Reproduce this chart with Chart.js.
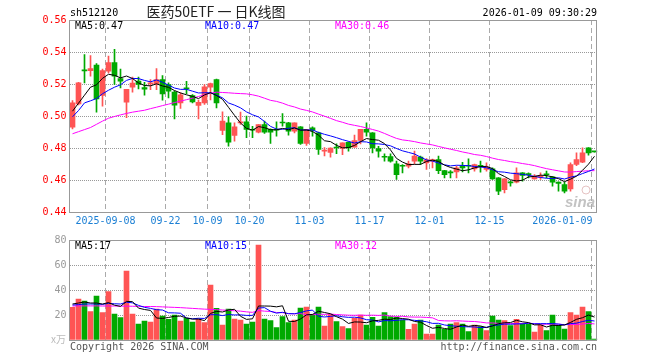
<!DOCTYPE html>
<html>
<head>
<meta charset="utf-8">
<script src="https://cdn.jsdelivr.net/npm/chart.js@4.4.1/dist/chart.umd.min.js"></script>
<style>
  body { margin: 0; background: #fff; }
  #wrap { position: relative; width: 660px; height: 360px; }
  canvas { position: absolute; left: 0; }
  #kline { top: 0; }
  #vol { top: 230px; }
</style>
</head>
<body>
<div id="wrap">
  <canvas id="kline" width="660" height="230"></canvas>
  <canvas id="vol" width="660" height="130"></canvas>
</div>
<script>
//trading days shown on the chart
var dates = ['2025-08-29','2025-09-01','2025-09-02','2025-09-03','2025-09-04','2025-09-05','2025-09-08','2025-09-09','2025-09-10','2025-09-11',
  '2025-09-12','2025-09-15','2025-09-16','2025-09-17','2025-09-18','2025-09-19','2025-09-22','2025-09-23','2025-09-24','2025-09-25',
  '2025-09-26','2025-09-29','2025-09-30','2025-10-09','2025-10-10','2025-10-13','2025-10-14','2025-10-15','2025-10-16','2025-10-17',
  '2025-10-20','2025-10-21','2025-10-22','2025-10-23','2025-10-24','2025-10-27','2025-10-28','2025-10-29','2025-10-30','2025-10-31',
  '2025-11-03','2025-11-04','2025-11-05','2025-11-06','2025-11-07','2025-11-10','2025-11-11','2025-11-12','2025-11-13','2025-11-14',
  '2025-11-17','2025-11-18','2025-11-19','2025-11-20','2025-11-21','2025-11-24','2025-11-25','2025-11-26','2025-11-27','2025-11-28',
  '2025-12-01','2025-12-02','2025-12-03','2025-12-04','2025-12-05','2025-12-08','2025-12-09','2025-12-10','2025-12-11','2025-12-12',
  '2025-12-15','2025-12-16','2025-12-17','2025-12-18','2025-12-19','2025-12-22','2025-12-23','2025-12-24','2025-12-25','2025-12-26',
  '2025-12-29','2025-12-30','2025-12-31','2026-01-05','2026-01-06','2026-01-07','2026-01-08','2026-01-09'];

var openPrices = [0.4930,0.5076,0.5286,0.5284,0.5318,0.5128,0.5280,0.5334,0.5234,0.5086,
  0.5180,0.5218,0.5178,0.5200,0.5200,0.5228,0.5197,0.5149,0.5082,0.5176,
  0.5128,0.5066,0.5082,0.5180,0.5228,0.4910,0.4957,0.4878,0.4957,0.4963,
  0.4916,0.4899,0.4947,0.4916,0.4912,0.4958,0.4957,0.4905,0.4932,0.4828,
  0.4926,0.4895,0.4780,0.4772,0.4802,0.4797,0.4836,0.4805,0.4847,0.4916,
  0.4895,0.4797,0.4744,0.4747,0.4701,0.4687,0.4686,0.4718,0.4743,0.4707,
  0.4718,0.4728,0.4659,0.4646,0.4651,0.4688,0.4688,0.4670,0.4688,0.4666,
  0.4670,0.4613,0.4540,0.4583,0.4587,0.4645,0.4635,0.4607,0.4618,0.4635,
  0.4620,0.4587,0.4572,0.4545,0.4697,0.4711,0.4801,0.4777];
var highPrices = [0.5097,0.5210,0.5384,0.5378,0.5328,0.5294,0.5374,0.5416,0.5294,0.5166,
  0.5244,0.5244,0.5211,0.5228,0.5297,0.5253,0.5207,0.5155,0.5145,0.5216,
  0.5134,0.5099,0.5197,0.5205,0.5230,0.5026,0.4995,0.4957,0.5024,0.4999,
  0.4936,0.4947,0.4968,0.4920,0.4963,0.5015,0.4960,0.4957,0.4934,0.4916,
  0.4932,0.4899,0.4803,0.4801,0.4826,0.4832,0.4838,0.4880,0.4916,0.4957,
  0.4897,0.4811,0.4764,0.4764,0.4718,0.4697,0.4718,0.4780,0.4749,0.4734,
  0.4730,0.4749,0.4661,0.4659,0.4687,0.4711,0.4732,0.4699,0.4718,0.4707,
  0.4676,0.4615,0.4609,0.4593,0.4676,0.4647,0.4645,0.4634,0.4645,0.4655,
  0.4622,0.4589,0.4587,0.4707,0.4770,0.4801,0.4803,0.4778];
var lowPrices = [0.4920,0.5070,0.5207,0.5249,0.5024,0.5061,0.5270,0.5197,0.5176,0.4990,
  0.5149,0.5170,0.5130,0.5165,0.5165,0.5099,0.5113,0.4982,0.5047,0.5140,
  0.5082,0.4982,0.5072,0.5100,0.5051,0.4884,0.4811,0.4843,0.4947,0.4864,
  0.4864,0.4895,0.4891,0.4828,0.4874,0.4937,0.4880,0.4895,0.4822,0.4816,
  0.4874,0.4760,0.4751,0.4743,0.4764,0.4759,0.4780,0.4805,0.4826,0.4874,
  0.4770,0.4743,0.4718,0.4711,0.4603,0.4645,0.4676,0.4701,0.4697,0.4666,
  0.4676,0.4639,0.4613,0.4613,0.4613,0.4651,0.4645,0.4655,0.4649,0.4655,
  0.4603,0.4509,0.4519,0.4561,0.4582,0.4592,0.4613,0.4605,0.4603,0.4613,
  0.4561,0.4530,0.4519,0.4530,0.4690,0.4708,0.4755,0.4774];
var closePrices = [0.5082,0.5207,0.5282,0.5297,0.5107,0.5284,0.5334,0.5249,0.5217,0.5166,
  0.5205,0.5197,0.5168,0.5207,0.5228,0.5138,0.5155,0.5068,0.5132,0.5170,
  0.5088,0.5086,0.5182,0.5203,0.5082,0.4968,0.4836,0.4932,0.4963,0.4916,
  0.4911,0.4947,0.4899,0.4899,0.4911,0.4956,0.4905,0.4957,0.4828,0.4916,
  0.4910,0.4791,0.4782,0.4800,0.4800,0.4832,0.4801,0.4847,0.4916,0.4899,
  0.4801,0.4780,0.4742,0.4718,0.4634,0.4686,0.4701,0.4749,0.4718,0.4726,
  0.4728,0.4659,0.4634,0.4645,0.4676,0.4676,0.4686,0.4697,0.4686,0.4680,
  0.4607,0.4530,0.4607,0.4582,0.4645,0.4628,0.4634,0.4624,0.4620,0.4633,
  0.4587,0.4578,0.4530,0.4697,0.4728,0.4770,0.4770,0.4776];

//volume in 万
var volumes = [26.1,32.8,31.2,22.7,35.2,21.9,38.7,20.8,17.9,55.2,
  20.8,12.8,15.2,14.4,24.8,19.2,16.5,20.0,15.2,17.3,
  14.4,16.8,13.9,44.0,25.3,12.0,24.8,16.8,16.0,12.8,
  14.4,76.0,16.8,15.5,9.9,18.7,13.9,16.0,25.6,26.4,
  20.5,26.4,11.2,20.5,14.7,10.7,9.1,17.3,20.0,12.0,
  18.1,11.2,21.9,18.7,18.1,16.0,8.5,12.8,16.0,4.8,
  4.8,12.0,8.5,12.8,13.9,12.8,6.7,12.0,10.7,7.5,
  19.2,16.0,15.5,11.5,16.5,13.3,12.8,6.4,12.0,7.5,
  20.0,12.0,8.8,21.9,20.0,26.4,22.7,0.8];

//MA values at the start of the window (their history is before the first bar)
var ma5Head = [0.503,0.508,0.513,0.518];
var ma10Head = [0.4995,0.5034,0.5082,0.5095,0.5109,0.5139,0.5161,0.5180,0.5195];
var ma30Head = [0.4889,0.4902,0.4915,0.4928,0.4948,0.4968,0.4986,0.4997,0.5007,0.5016,
  0.5024,0.5030,0.5036,0.5046,0.5055,0.5065,0.5074,0.5084,0.5093,0.5102,
  0.5111,0.5122,0.5133,0.5143,0.5149,0.5147,0.5145,0.5142,0.5140];
var vma5Head = [28.8,29.6,30.4,29.6];
var vma10Head = [28.0,28.3,28.8,28.8,28.8,28.5,29.3,29.0,28.8];
var vma30Head = [27.2,27.3,27.3,27.3,27.3,27.2,27.2,27.2,27.1,27.1,
  27.0,26.9,26.8,26.8,26.7,26.5,26.3,26.1,25.9,25.6,
  25.3,25.0,24.7,24.5,24.3,24.0,23.7,23.4,23.1];

//x axis labels
var tickIndexes = [6, 16, 23, 30, 40, 50, 60, 70, 87];
var tickTexts = ['2025-09-08','09-22','10-09','10-20','11-03','11-17','12-01','12-15','2026-01-09'];
var priceTicks = [0.44, 0.46, 0.48, 0.50, 0.52, 0.54, 0.56];
var volumeTicks = [0, 20, 40, 60, 80];

var RED = '#ff5454';
var GREEN = '#00a900';
var MONO = '"DejaVu Sans Mono", monospace';

function movingAverage(values, n, head) {
  var out = [];
  for (var i = 0; i < values.length; i++) {
    if (i < head.length) { out.push(head[i]); continue; }
    var sum = 0;
    for (var j = i - n + 1; j <= i; j++) sum += values[j];
    out.push(sum / n);
  }
  return out;
}

var barColors = closePrices.map(function (c, i) { return c > openPrices[i] ? RED : GREEN; });
var bodies = openPrices.map(function (o, i) { return [o, closePrices[i]]; });
var wicks = lowPrices.map(function (l, i) { return [l, highPrices[i]]; });

function lineSet(label, data, color) {
  return { type: 'line', label: label, data: data, borderColor: color, borderWidth: 1,
    pointRadius: 0, fill: false, tension: 0, order: 0 };
}

//frame and dashed date lines are shared by both panels
function xScale() {
  return {
    offset: true,
    afterFit: function (s) { s.height = 0; },
    ticks: { display: false, autoSkip: false },
    grid: {
      offset: true, drawTicks: false,
      color: function (c) { return tickIndexes.indexOf(c.index) >= 0 ? '#aaa' : 'rgba(0,0,0,0)'; }
    },
    border: { display: false, dash: [5, 3] }
  };
}

function drawFrame(ctx, area) {
  ctx.strokeStyle = '#999';
  ctx.lineWidth = 1;
  var l = Math.floor(area.left) + 0.5, t = Math.floor(area.top) + 0.5;
  var r = Math.floor(area.right) - 0.5, b = Math.floor(area.bottom) + 0.5;
  ctx.strokeRect(l, t, r - l, b - t);
}

function text(ctx, s, x, y, color, font, align) {
  ctx.fillStyle = color;
  ctx.font = font;
  ctx.textAlign = align || 'left';
  ctx.textBaseline = 'middle';
  ctx.fillText(s, x, y);
}

var klineText = {
  id: 'klineText',
  afterDraw: function (chart) {
    var ctx = chart.ctx;
    var area = chart.chartArea;
    var xs = chart.scales.x;
    ctx.save();
    drawFrame(ctx, area);
    var f = '10px ' + MONO;
    text(ctx, 'sh512120', 70, 13, '#000', f);
    text(ctx, '医药50ETF 一 日K线图', 216, 12, '#222', '14px "Noto Sans CJK SC"', 'center');
    text(ctx, '2026-01-09 09:30:29', 597, 13, '#000', f, 'right');
    text(ctx, 'MA5:0.47', 75, 26, '#000', f);
    text(ctx, 'MA10:0.47', 205, 26, '#0000ff', f);
    text(ctx, 'MA30:0.46', 335, 26, '#ff00ff', f);
    var half = (xs.getPixelForValue(1) - xs.getPixelForValue(0)) / 2;
    for (var i = 0; i < tickIndexes.length; i++) {
      var px = xs.getPixelForValue(tickIndexes[i]) - half;
      var last = i === tickIndexes.length - 1;
      text(ctx, tickTexts[i], px + (last ? 1 : 0), area.bottom + 9, '#1b7fd4', f, last ? 'right' : 'center');
    }
    //sina watermark
    ctx.strokeStyle = 'rgba(220,170,170,0.7)';
    ctx.beginPath();
    ctx.arc(586, 190, 4, 0, Math.PI * 2);
    ctx.stroke();
    text(ctx, 'sina', 580, 203, 'rgba(175,175,175,0.75)', 'italic bold 15px "Liberation Sans"', 'center');
    ctx.restore();
  }
};

var volText = {
  id: 'volText',
  afterDraw: function (chart) {
    var ctx = chart.ctx;
    ctx.save();
    drawFrame(ctx, chart.chartArea);
    var f = '10px ' + MONO;
    text(ctx, 'MA5:17', 75, 16, '#000', f);
    text(ctx, 'MA10:15', 205, 16, '#0000ff', f);
    text(ctx, 'MA30:12', 335, 16, '#ff00ff', f);
    text(ctx, 'x万', 66, 109, '#bbb', '10px "Noto Sans CJK SC"', 'right');
    text(ctx, 'Copyright 2026 SINA.COM', 70, 117, '#555', f);
    text(ctx, 'http://finance.sina.com.cn', 597, 117, '#555', f, 'right');
    ctx.restore();
  }
};

new Chart(document.getElementById('kline'), {
  type: 'bar',
  data: {
    labels: dates,
    datasets: [
      lineSet('MA5', movingAverage(closePrices, 5, ma5Head), '#000'),
      lineSet('MA10', movingAverage(closePrices, 10, ma10Head), '#0000ff'),
      lineSet('MA30', movingAverage(closePrices, 30, ma30Head), '#ff00ff'),
      { label: 'body', data: bodies, backgroundColor: barColors, barThickness: 5, minBarLength: 1, grouped: false, order: 2 },
      { label: 'wick', data: wicks, backgroundColor: barColors, barThickness: 1, grouped: false, order: 3 }
    ]
  },
  options: {
    responsive: false,
    animation: false,
    layout: { padding: { left: 0, right: 62.5, top: 20, bottom: 18 } },
    plugins: { legend: { display: false }, tooltip: { enabled: false } },
    scales: {
      x: xScale(),
      y: {
        min: 0.44, max: 0.56,
        afterFit: function (s) { s.width = 69.5; },
        afterBuildTicks: function (s) { s.ticks = priceTicks.map(function (v) { return { value: v }; }); },
        ticks: { color: '#ff0000', font: { family: MONO, size: 10 }, padding: 3,
          callback: function (v) { return Number(v).toFixed(2); } },
        grid: { color: '#999', drawTicks: false },
        border: { display: false, dash: [1, 1] }
      }
    }
  },
  plugins: [klineText]
});

new Chart(document.getElementById('vol'), {
  type: 'bar',
  data: {
    labels: dates,
    datasets: [
      lineSet('MA5', movingAverage(volumes, 5, vma5Head), '#000'),
      lineSet('MA10', movingAverage(volumes, 10, vma10Head), '#0000ff'),
      lineSet('MA30', movingAverage(volumes, 30, vma30Head), '#ff00ff'),
      { label: 'volume', data: volumes, backgroundColor: barColors, barThickness: 5, order: 2 }
    ]
  },
  options: {
    responsive: false,
    animation: false,
    layout: { padding: { left: 0, right: 62.5, top: 10, bottom: 20 } },
    plugins: { legend: { display: false }, tooltip: { enabled: false } },
    scales: {
      x: xScale(),
      y: {
        min: 0, max: 80,
        afterFit: function (s) { s.width = 69.5; },
        afterBuildTicks: function (s) { s.ticks = volumeTicks.map(function (v) { return { value: v }; }); },
        ticks: { color: '#999', font: { family: MONO, size: 10 }, padding: 3,
          callback: function (v) { return v === 0 ? '' : v; } },
        grid: { color: '#999', drawTicks: false },
        border: { display: false, dash: [1, 1] }
      }
    }
  },
  plugins: [volText]
});
</script>
</body>
</html>
